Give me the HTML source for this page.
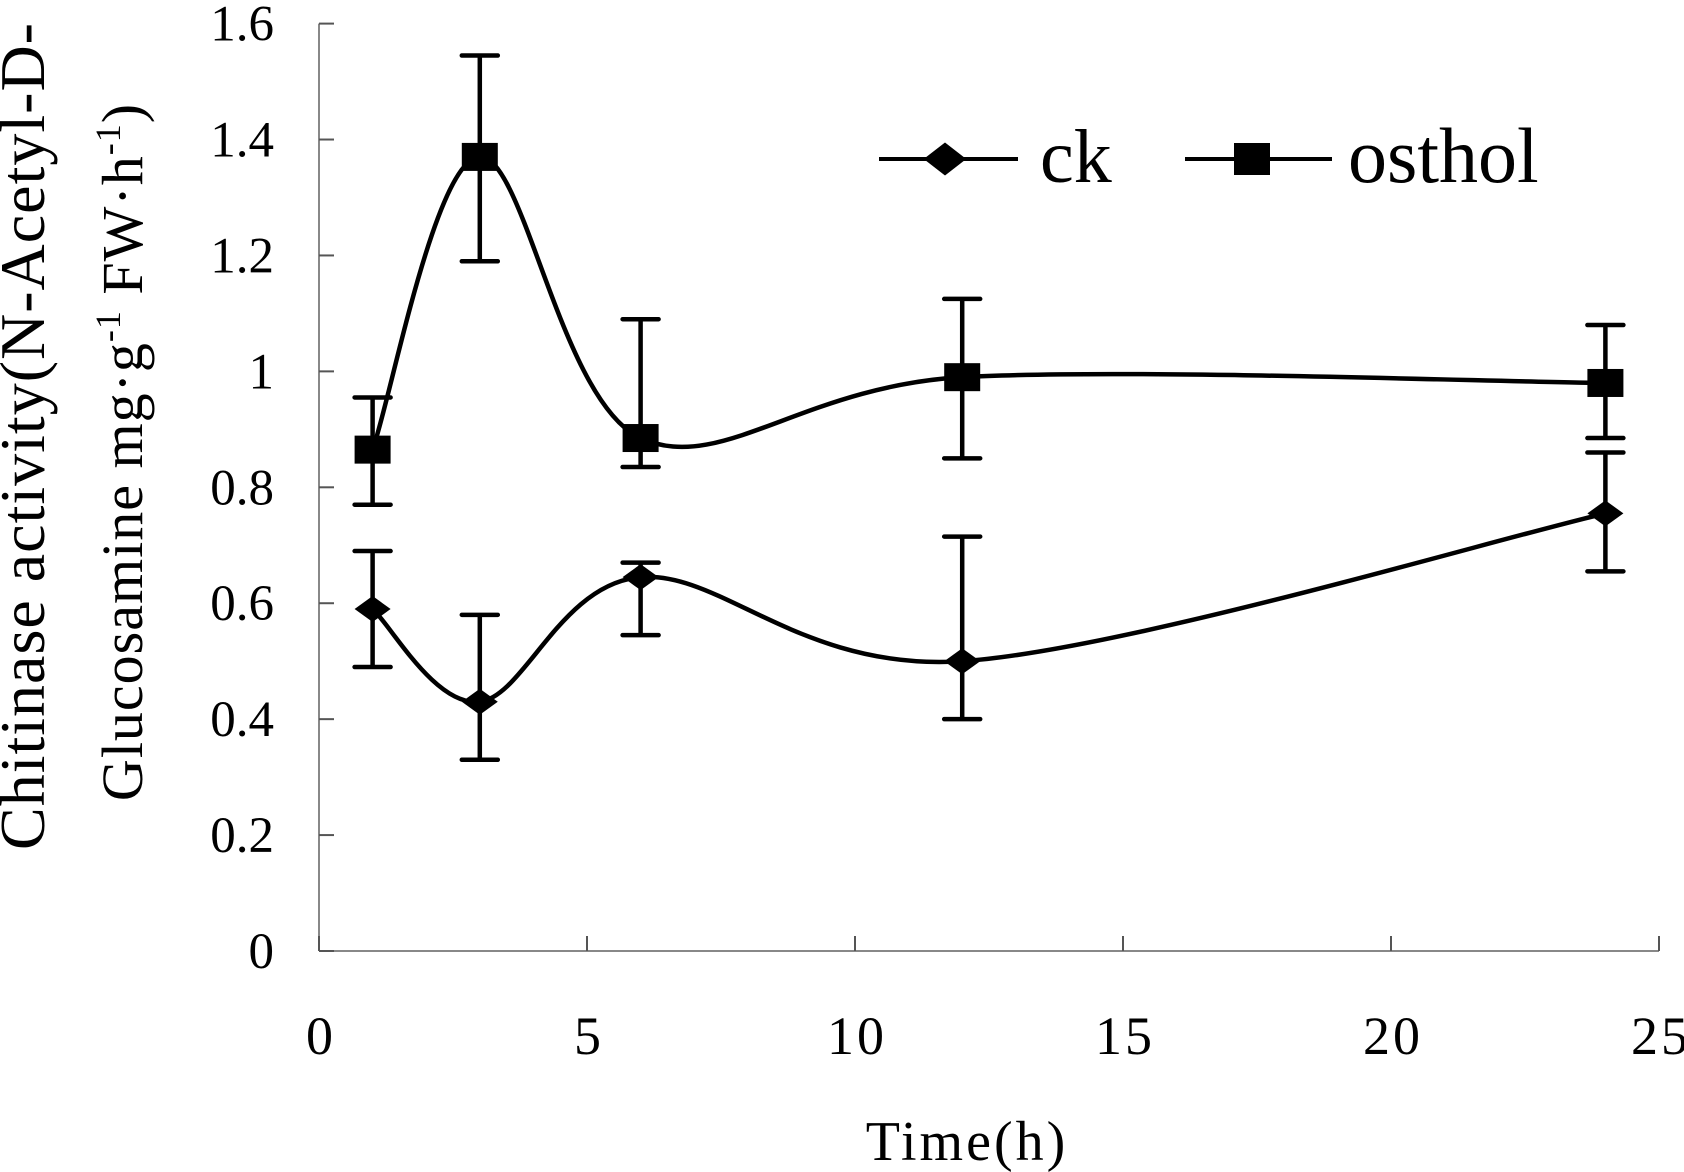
<!DOCTYPE html>
<html><head><meta charset="utf-8"><style>
html,body{margin:0;padding:0;background:#fff;}
svg{display:block;font-family:"Liberation Serif",serif;}
</style></head><body>
<svg id="chart" width="1684" height="1172" viewBox="0 0 1684 1172"></svg>
<script>
const xVals=[1,3,6,12,24];
const ckVals=[0.59,0.43,0.645,0.5,0.755];
const ckLow=[0.49,0.33,0.545,0.40,0.655];
const ckHigh=[0.69,0.58,0.67,0.715,0.86];
const osVals=[0.865,1.37,0.885,0.99,0.98];
const osLow=[0.77,1.19,0.835,0.85,0.885];
const osHigh=[0.955,1.545,1.09,1.125,1.08];
const xTicks=[0,5,10,15,20,25];
const yTicks=[0,0.2,0.4,0.6,0.8,1,1.2,1.4,1.6];
const yTickLabels=["0","0.2","0.4","0.6","0.8","1","1.2","1.4","1.6"];

const NS="http://www.w3.org/2000/svg";
const svg=document.getElementById('chart');
const X0=319,X1=1659,Y0=951,Y1=23.6;
const sx=v=>X0+(X1-X0)*v/25;
const sy=v=>Y0-(Y0-Y1)*v/1.6;
function mk(t,a,p){const e=document.createElementNS(NS,t);for(const k in a)e.setAttribute(k,a[k]);(p||svg).appendChild(e);return e;}

let ax=mk('line',{x1:X0,y1:Y0,x2:X1,y2:Y0,stroke:'#888','stroke-width':2});


let ay=mk('line',{x1:X0,y1:Y0,x2:X0,y2:Y1,stroke:'#888','stroke-width':2});


xTicks.forEach(v=>{
  let t=mk('line',{x1:sx(v),y1:Y0,x2:sx(v),y2:Y0-15,stroke:'#555','stroke-width':2});
  
  
  let l=mk('text',{x:sx(v)+2,y:Y0+103,'font-size':54,'letter-spacing':3,'text-anchor':'middle'});
  l.textContent=String(v);
  
  
});
yTicks.forEach((v,i)=>{
  let t=mk('line',{x1:X0,y1:sy(v),x2:X0+15,y2:sy(v),stroke:'#555','stroke-width':2});
  
  
  let l=mk('text',{x:274,y:sy(v)+17,'font-size':51,'text-anchor':'end'});
  l.textContent=yTickLabels[i];
  
  
});

function spline(xs,ys){
  const p=xs.map((x,i)=>[sx(x),sy(ys[i])]);
  let d='M'+p[0][0]+','+p[0][1];
  for(let i=0;i<p.length-1;i++){
    const p0=p[i-1]||p[i],p1=p[i],p2=p[i+1],p3=p[i+2]||p[i+1];
    const c1=[p1[0]+(p2[0]-p0[0])/6,p1[1]+(p2[1]-p0[1])/6];
    const c2=[p2[0]-(p3[0]-p1[0])/6,p2[1]-(p3[1]-p1[1])/6];
    d+=' C'+c1+' '+c2+' '+p2;
  }
  return d;
}
function series(name,vals,lo,hi,marker){
  const g=mk('g',{});
  
  
  const l=mk('path',{d:spline(xVals,vals),fill:'none',stroke:'#000','stroke-width':4.5},g);
  
  
  xVals.forEach((x,i)=>{
    const cx=sx(x);
    const e=mk('path',{d:`M${cx},${sy(lo[i])}V${sy(hi[i])}M${cx-18},${sy(lo[i])}H${cx+18}M${cx-18},${sy(hi[i])}H${cx+18}`,stroke:'#000','stroke-width':4.5,'stroke-linecap':'round',fill:'none'},g);
    
    
    const cy=sy(vals[i]);
    let m;
    if(marker==='sq') m=mk('rect',{x:cx-18,y:cy-14,width:36,height:28,fill:'#000'},g);
    else m=mk('path',{d:`M${cx-18},${cy}L${cx},${cy-13}L${cx+18},${cy}L${cx},${cy+13}Z`,fill:'#000'},g);
    
    
  });
}
series('ck',ckVals,ckLow,ckHigh,'dia');
series('osthol',osVals,osLow,osHigh,'sq');

const lg=mk('g',{});


let a=mk('path',{d:'M879,159H1018M927,159L945,145L963,159L945,173Z',stroke:'#000','stroke-width':4,fill:'#000'},lg);


let at=mk('text',{x:1040,y:182,'font-size':76},lg);at.textContent='ck';


let b=mk('path',{d:'M1185,159H1332',stroke:'#000','stroke-width':4},lg);


mk('rect',{x:1234,y:143,width:36,height:32,fill:'#000'},lg);
let bt=mk('text',{x:1348,y:182,'font-size':78},lg);bt.textContent='osthol';



let xt=mk('text',{x:967,y:1160,'font-size':56,'letter-spacing':3,'text-anchor':'middle'});xt.textContent='Time(h)';


let yt=mk('text',{transform:'translate(44,436) rotate(-90)','font-size':64,'letter-spacing':1,'text-anchor':'middle'});
yt.textContent='Chitinase activity(N-Acetyl-D-';


let yt2=mk('text',{transform:'translate(142,452) rotate(-90)','font-size':58,'letter-spacing':1,'text-anchor':'middle'});
yt2.innerHTML='Glucosamine mg·g<tspan dy="-22" font-size="36">-1</tspan><tspan dy="22"> FW·h</tspan><tspan dy="-22" font-size="36">-1</tspan><tspan dy="22">)</tspan>';


</script>
</body></html>
